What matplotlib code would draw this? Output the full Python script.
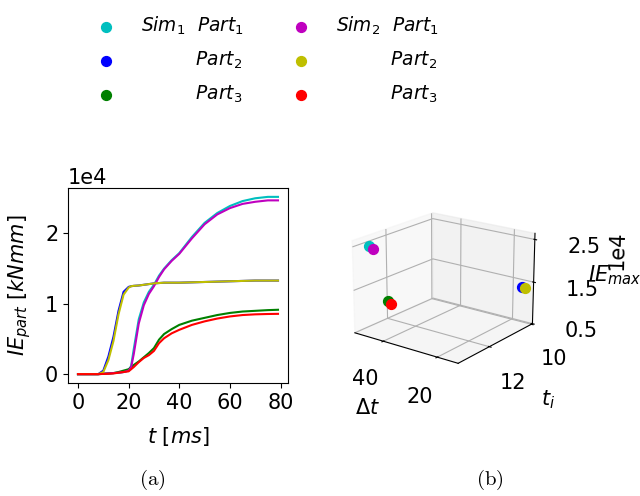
import numpy as np
import matplotlib
matplotlib.use("Agg")
import matplotlib.pyplot as plt

# time grid [ms]
t = [0, 8, 10, 12, 14, 16, 18, 20, 21, 22, 24, 26, 28, 30, 32, 34, 37, 40, 45, 50, 55, 60, 65, 70, 75, 79]

# internal energy per part [1e4 kNmm]
sim1_part1 = [0, 0, 0.005, 0.01, 0.015, 0.02, 0.03, 0.05, 0.12, 0.35, 0.78, 1.02, 1.17, 1.27, 1.40, 1.50, 1.62, 1.72, 1.95, 2.15, 2.29, 2.39, 2.46, 2.50, 2.52, 2.52]
sim1_part2 = [0, 0, 0.05, 0.25, 0.53, 0.90, 1.17, 1.24, 1.25, 1.255, 1.26, 1.27, 1.28, 1.29, 1.295, 1.30, 1.30, 1.30, 1.305, 1.31, 1.315, 1.32, 1.325, 1.33, 1.33, 1.33]
sim1_part3 = [0, 0, 0.005, 0.01, 0.015, 0.03, 0.05, 0.07, 0.10, 0.13, 0.18, 0.24, 0.30, 0.37, 0.49, 0.57, 0.64, 0.70, 0.76, 0.80, 0.84, 0.87, 0.89, 0.90, 0.91, 0.915]
sim2_part1 = [0, 0, 0.005, 0.01, 0.015, 0.02, 0.03, 0.05, 0.10, 0.28, 0.72, 0.98, 1.14, 1.25, 1.38, 1.49, 1.61, 1.71, 1.93, 2.13, 2.27, 2.36, 2.42, 2.45, 2.47, 2.47]
sim2_part2 = [0, 0, 0.03, 0.20, 0.47, 0.85, 1.13, 1.23, 1.25, 1.255, 1.26, 1.27, 1.28, 1.29, 1.295, 1.30, 1.30, 1.30, 1.305, 1.31, 1.315, 1.32, 1.325, 1.33, 1.33, 1.33]
sim2_part3 = [0, 0, 0.003, 0.005, 0.01, 0.02, 0.03, 0.04, 0.07, 0.10, 0.17, 0.23, 0.27, 0.33, 0.44, 0.51, 0.58, 0.63, 0.70, 0.75, 0.79, 0.82, 0.84, 0.85, 0.855, 0.857]

# 3D scatter: duration and initiation time per part
sim1_dt = [47.2, 16.5, 51.3]
sim1_ti = [13.11, 10.0, 11.97]
sim2_dt = [45.65, 15.4, 49.8]
sim2_ti = [13.1, 9.98, 11.98]
dt_lim = [12.65, 51.15]
ti_lim = [9.945, 13.355]

sim1_colors = ['c', 'b', 'g']
sim2_colors = ['m', 'y', 'r']
labels1 = [r'$Sim_1\ \ Part_1$', r'$\qquad\ \ \ Part_2$', r'$\qquad\ \ \ Part_3$']
labels2 = [r'$Sim_2\ \ Part_1$', r'$\qquad\ \ \ Part_2$', r'$\qquad\ \ \ Part_3$']

scale = 1e4
sim1 = [np.array(s) * scale for s in (sim1_part1, sim1_part2, sim1_part3)]
sim2 = [np.array(s) * scale for s in (sim2_part1, sim2_part2, sim2_part3)]

fig = plt.figure(figsize=(6.4, 4.96), dpi=100)
FS = 15

ax = fig.add_axes([68/640, 1-383/496, 220/640, 195/496])
for y, c in zip(sim1, sim1_colors):
    ax.plot(t, y, color=c, lw=1.5)
for y, c in zip(sim2, sim2_colors):
    ax.plot(t, y, color=c, lw=1.5)
ax.ticklabel_format(axis='y', style='sci', scilimits=(0, 0))
ax.tick_params(labelsize=FS)
ax.yaxis.get_offset_text().set_fontsize(FS)
ax.set_xticks([0, 20, 40, 60, 80])
ax.set_xlabel(r'$t\ [ms]$', fontsize=FS, labelpad=9)
ax.set_ylabel(r'$IE_{part}\ [kNmm]$', fontsize=FS, labelpad=9)

ax3 = fig.add_axes([0.525, 0.222, 0.331, 0.403], projection='3d')
h1, h2 = [], []
for i in range(3):
    h1.append(ax3.scatter(sim1_dt[i], sim1_ti[i], sim1[i].max(), color=sim1_colors[i], s=50, depthshade=False))
for i in range(3):
    h2.append(ax3.scatter(sim2_dt[i], sim2_ti[i], sim2[i].max(), color=sim2_colors[i], s=50, depthshade=False))
ax3.view_init(elev=19, azim=127)
ax3.set_xlim(dt_lim)
ax3.set_ylim(ti_lim)
ax3.set_zticks([0.5e4, 1.5e4, 2.5e4])
ax3.set_xticks([20, 40])
ax3.set_yticks([10, 12])
ax3.ticklabel_format(axis='z', style='sci', scilimits=(0, 0))
ax3.tick_params(labelsize=FS, pad=8)
ax3.tick_params(axis='z', pad=13)
ax3.zaxis.get_offset_text().set_fontsize(FS)
for a in (ax3.xaxis, ax3.yaxis, ax3.zaxis):
    a.set_rotate_label(False)
ax3.set_xlabel(r'$\Delta t$', fontsize=FS, labelpad=12)
ax3.set_ylabel(r'$t_i$', fontsize=FS, labelpad=14)
ax3.set_zlabel(r'$IE_{max}$', fontsize=FS, labelpad=14)

LFS = 13.4
leg_kw = dict(loc='upper left', frameon=False, fontsize=LFS, handletextpad=0.84, labelspacing=0.68)
leg1 = fig.legend(h1, labels1, bbox_to_anchor=(71/640, 1.0 + 2/496), **leg_kw)
leg2 = fig.legend(h2, labels2, bbox_to_anchor=(266/640, 1.0 + 2/496), **leg_kw)

fig.text(152/640, 1-480/496, r'$\mathrm{(a)}$', fontsize=15, math_fontfamily='cm', ha='center', va='center')
fig.text(490/640, 1-480/496, r'$\mathrm{(b)}$', fontsize=15, math_fontfamily='cm', ha='center', va='center')

fig.savefig('out.png', dpi=100)
